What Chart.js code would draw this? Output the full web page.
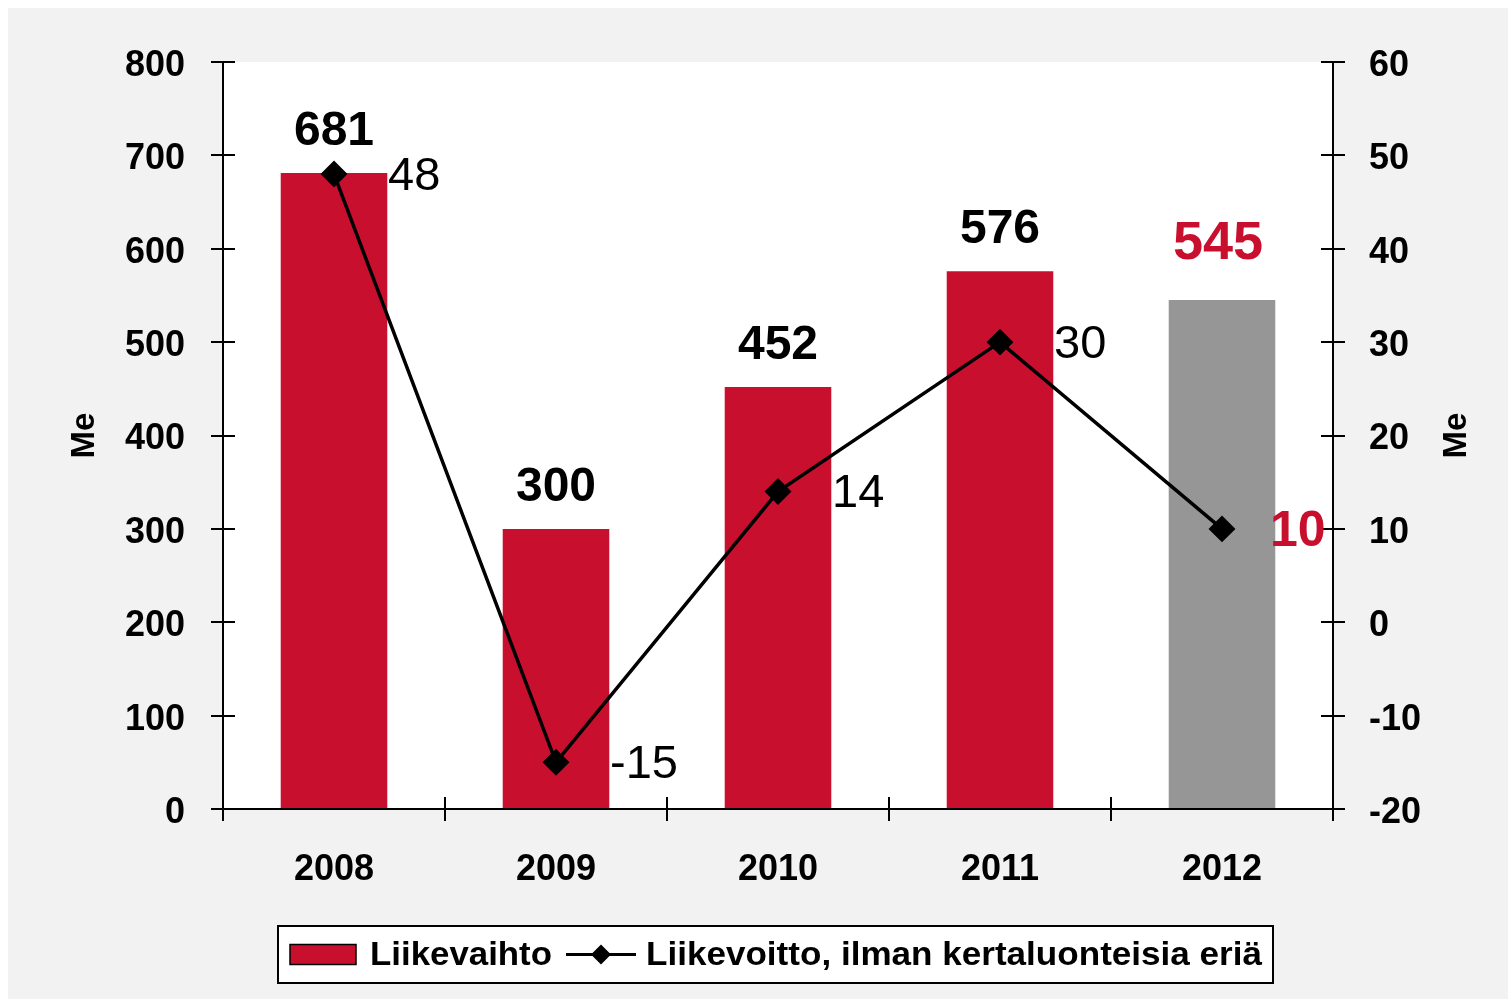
<!DOCTYPE html>
<html><head><meta charset="utf-8">
<script src="https://cdn.jsdelivr.net/npm/chart.js@4/dist/chart.umd.min.js"></script>
<style>
html,body{margin:0;padding:0;background:#fff;}
#wrap{position:absolute;left:0;top:0;width:1508px;height:999px;}
</style></head>
<body><div id="wrap"><canvas id="c" width="1508" height="999"></canvas></div>
<script>
const categories = ["2008","2009","2010","2011","2012"];
const revenue = [681, 300, 452, 576, 545];
const profit = [48, -15, 14, 30, 10];
const revenueLabel = "Liikevaihto";
const profitLabel = "Liikevoitto, ilman kertaluonteisia eriä";
const leftTicks = [0,100,200,300,400,500,600,700,800];
const rightTicks = [-20,-10,0,10,20,30,40,50,60];

const RED = "#c8102e", GREY = "#969696", BG = "#f2f2f2";
const FONT = "'Liberation Sans', Arial, sans-serif";
const barColors = revenue.map((v,i)=> i===revenue.length-1 ? GREY : RED);
const highlight = revenue.length-1;

const decor = {
  id:'decor',
  beforeDraw(chart){
    const ctx = chart.ctx, a = chart.chartArea;
    ctx.save();
    ctx.fillStyle = '#fff'; ctx.fillRect(0,0,chart.width,chart.height);
    ctx.fillStyle = BG; ctx.fillRect(8,8,chart.width-8,chart.height-8);
    ctx.fillStyle = '#fff'; ctx.fillRect(a.left,a.top,a.right-a.left,a.bottom-a.top);
    ctx.restore();
  },
  afterDraw(chart){
    const ctx = chart.ctx, a = chart.chartArea;
    const y = chart.scales.y, y1 = chart.scales.y1, x = chart.scales.x;
    ctx.save();
    ctx.strokeStyle = '#000'; ctx.lineWidth = 2;
    ctx.beginPath();
    ctx.moveTo(a.left, a.top); ctx.lineTo(a.left, a.bottom);
    ctx.moveTo(a.right, a.top); ctx.lineTo(a.right, a.bottom);
    ctx.moveTo(a.left, a.bottom); ctx.lineTo(a.right, a.bottom);
    leftTicks.forEach(v=>{ const p=Math.round(y.getPixelForValue(v)); ctx.moveTo(a.left-12,p); ctx.lineTo(a.left+12,p); });
    rightTicks.forEach(v=>{ const p=Math.round(y1.getPixelForValue(v)); ctx.moveTo(a.right-12,p); ctx.lineTo(a.right+12,p); });
    const n = categories.length;
    for(let i=0;i<=n;i++){
      let p;
      if(i===0) p=a.left; else if(i===n) p=a.right;
      else p=(x.getPixelForValue(i-1)+x.getPixelForValue(i))/2;
      p=Math.round(p);
      ctx.moveTo(p,a.bottom-12); ctx.lineTo(p,a.bottom+12);
    }
    ctx.stroke();

    ctx.fillStyle='#000';
    ctx.font = "bold 33px "+FONT;
    ctx.textAlign='center'; ctx.textBaseline='middle';
    const my = (a.top+a.bottom)/2;
    ctx.save(); ctx.translate(85, my); ctx.rotate(-Math.PI/2); ctx.fillText("Me",0,0); ctx.restore();
    ctx.save(); ctx.translate(1457, my); ctx.rotate(-Math.PI/2); ctx.fillText("Me",0,0); ctx.restore();

    const barMeta = chart.getDatasetMeta(0);
    barMeta.data.forEach((el,i)=>{
      const hl = i===highlight;
      ctx.font = "bold "+(hl?54:48)+"px "+FONT;
      ctx.fillStyle = hl?RED:'#000';
      ctx.textAlign='center'; ctx.textBaseline='alphabetic';
      ctx.fillText(String(revenue[i]), el.x - (hl?4:0), el.y - (hl?41:28));
    });
    const lineMeta = chart.getDatasetMeta(1);
    lineMeta.data.forEach((el,i)=>{
      const hl = i===highlight;
      ctx.font = (hl?"bold 50px ":"47px ")+FONT;
      ctx.fillStyle = hl?RED:'#000';
      ctx.textAlign='left'; ctx.textBaseline='middle';
      ctx.fillText(String(profit[i]), el.x + (hl?48:54), el.y + 3);
    });

    const lx=278, ly=926, lw=995, lh=57;
    ctx.fillStyle='#fff'; ctx.fillRect(lx,ly,lw,lh);
    ctx.strokeStyle='#000'; ctx.lineWidth=2; ctx.strokeRect(lx,ly,lw,lh);
    const cy = ly+lh/2;
    ctx.fillStyle=RED; ctx.fillRect(290,cy-10,66,20);
    ctx.lineWidth=1.5; ctx.strokeStyle='#000'; ctx.strokeRect(290,cy-10,66,20);
    ctx.fillStyle='#000';
    ctx.font="bold 33px "+FONT; ctx.textAlign='left'; ctx.textBaseline='middle';
    const t1w = ctx.measureText(revenueLabel).width;
    ctx.save(); ctx.translate(370,cy+1); ctx.scale(182/t1w,1); ctx.fillText(revenueLabel,0,0); ctx.restore();
    ctx.lineWidth=3; ctx.beginPath(); ctx.moveTo(566,cy); ctx.lineTo(636,cy); ctx.stroke();
    ctx.beginPath(); ctx.moveTo(601,cy-10); ctx.lineTo(611,cy); ctx.lineTo(601,cy+10); ctx.lineTo(591,cy); ctx.closePath(); ctx.fill();
    const t2w = ctx.measureText(profitLabel).width;
    ctx.save(); ctx.translate(646,cy+1); ctx.scale(616/t2w,1); ctx.fillText(profitLabel,0,0); ctx.restore();
    ctx.restore();
  }
};

new Chart(document.getElementById('c'), {
  data:{
    labels: categories,
    datasets:[
      {type:'bar', label:revenueLabel, data:revenue, backgroundColor:barColors, yAxisID:'y',
       barPercentage:0.48, categoryPercentage:1.0, order:2},
      {type:'line', label:profitLabel, data:profit, yAxisID:'y1', borderColor:'#000', borderWidth:3.5,
       pointStyle:'rectRot', pointRadius:11, pointBackgroundColor:'#000', pointBorderColor:'#000',
       tension:0, order:1}
    ]
  },
  options:{
    responsive:false, animation:false, devicePixelRatio:1,
    layout:{padding:{top:62,left:0,right:0,bottom:0}},
    plugins:{legend:{display:false}, tooltip:{enabled:false}},
    scales:{
      x:{grid:{display:false}, border:{display:false},
         ticks:{color:'#000', font:{family:FONT, size:36, weight:'bold'}, padding:31},
         afterFit(s){ s.height = 190; }},
      y:{position:'left', min:0, max:800, grid:{display:false}, border:{display:false},
         afterBuildTicks(s){ s.ticks = leftTicks.map(v=>({value:v})); },
         ticks:{color:'#000', font:{family:FONT, size:36, weight:'bold'}, padding:30, labelOffset:4},
         afterFit(s){ s.width = 223; }},
      y1:{position:'right', min:-20, max:60, grid:{display:false}, border:{display:false},
         afterBuildTicks(s){ s.ticks = rightTicks.map(v=>({value:v})); },
         ticks:{color:'#000', font:{family:FONT, size:36, weight:'bold'}, padding:28, labelOffset:4},
         afterFit(s){ s.width = 175; }}
    }
  },
  plugins:[decor]
});
</script></body></html>
